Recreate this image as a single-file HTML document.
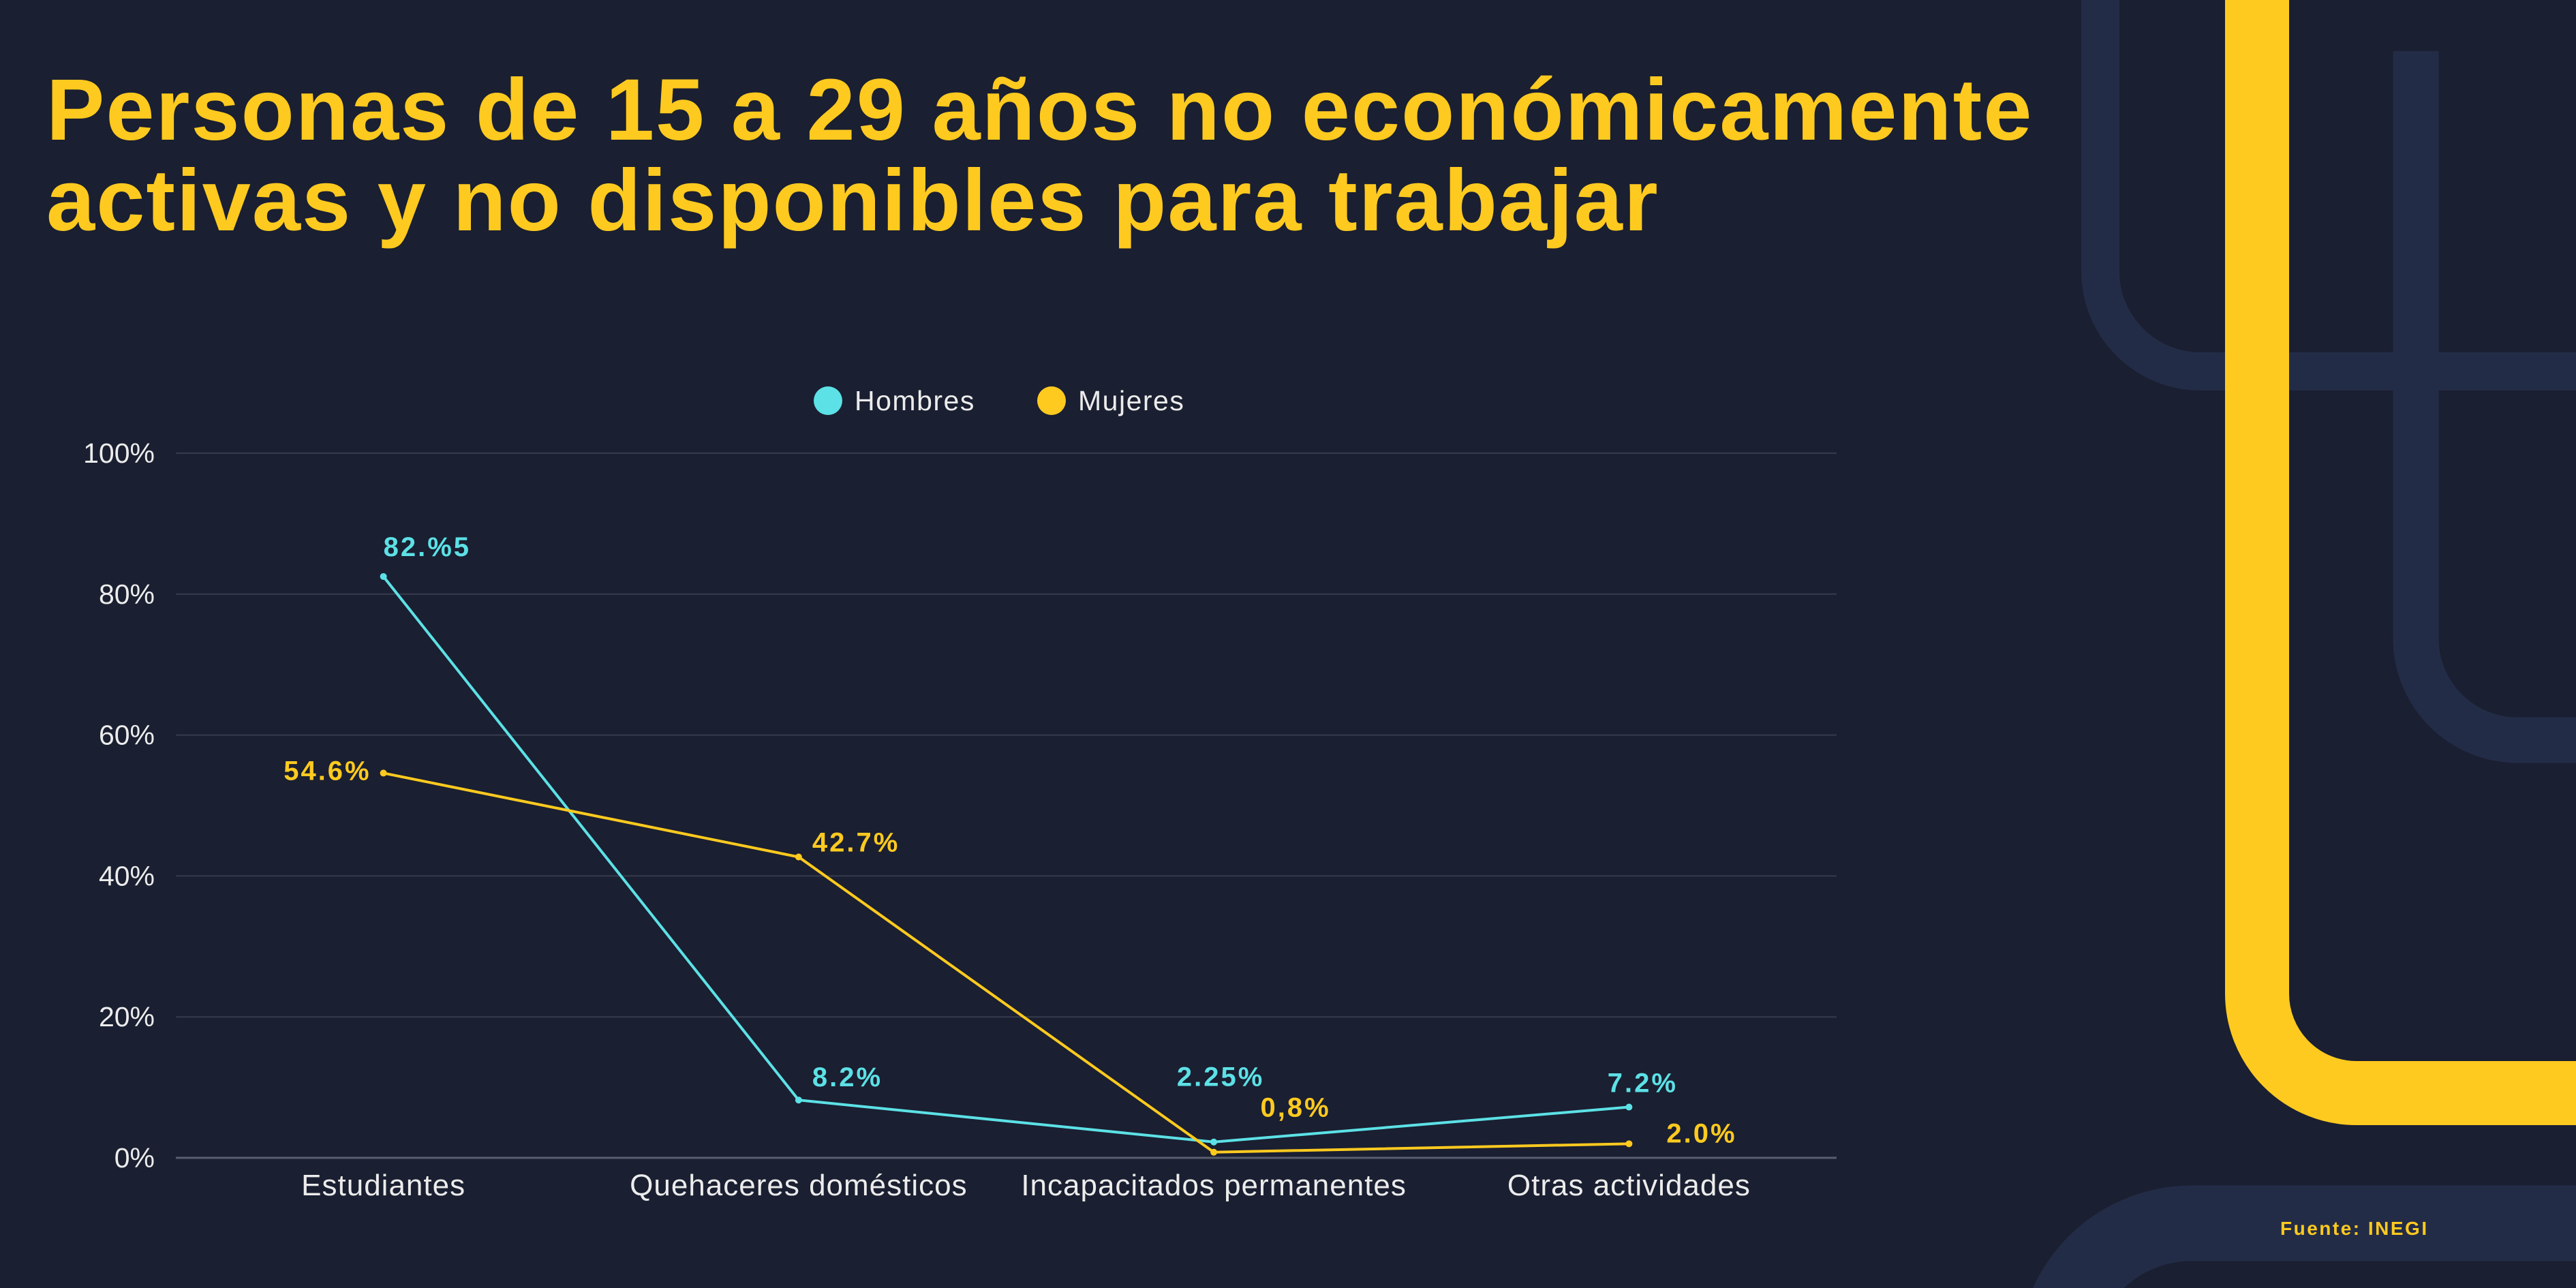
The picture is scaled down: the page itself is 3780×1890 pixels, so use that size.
<!DOCTYPE html>
<html><head><meta charset="utf-8"><style>
html,body{margin:0;padding:0;background:#1A1F31;overflow:hidden;width:3780px;height:1890px;}
svg{display:block;}
text{font-family:"Liberation Sans",sans-serif;}
</style></head><body>
<svg id="chart" width="3780" height="1890" viewBox="0 0 3780 1890" xmlns="http://www.w3.org/2000/svg">
<rect width="3780" height="1890" fill="#1A1F31"/>
<g fill="none" stroke-linecap="butt">
  <path d="M3082 -10 L3082 398 A147 147 0 0 0 3229 545 L3800 545" stroke="#232C47" stroke-width="56"/>
  <path d="M3545 75 L3545 937 A149 149 0 0 0 3694 1086 L3800 1086" stroke="#232C47" stroke-width="67"/>
  <path d="M3016 1995 A200 200 0 0 1 3216 1795 L3800 1795" stroke="#232C47" stroke-width="111"/>
  <path d="M3312 -10 L3312 1458 A146 146 0 0 0 3458 1604 L3800 1604" stroke="#FFCA1F" stroke-width="94"/>
</g>
<g fill="#FFCA1F" font-weight="bold" font-size="128" letter-spacing="2">
  <text x="68" y="205">Personas de 15 a 29 años no económicamente</text>
  <text x="68" y="338">activas y no disponibles para trabajar</text>
</g>
<text x="3346" y="1812" fill="#FFCA1F" font-weight="bold" font-size="28" letter-spacing="2.5">Fuente: INEGI</text>
<g>
  <g>
    <circle cx="1215" cy="588" r="21" fill="#5CE1E6"/>
    <text x="1254" y="602" fill="#ECECEC" font-size="41" letter-spacing="1.5">Hombres</text>
  </g>
  <g>
    <circle cx="1543" cy="588" r="21" fill="#FFCA1F"/>
    <text x="1582" y="602" fill="#ECECEC" font-size="41" letter-spacing="1.5">Mujeres</text>
  </g>
</g>
<g id="plot"></g>
<script>
const categories = ["Estudiantes", "Quehaceres domésticos", "Incapacitados permanentes", "Otras actividades"];
const hombres = [82.5, 8.2, 2.25, 7.2];
const mujeres = [54.6, 42.7, 0.8, 2.0];
const hombresLabels = ["82.%5", "8.2%", "2.25%", "7.2%"];
const mujeresLabels = ["54.6%", "42.7%", "0,8%", "2.0%"];
const yTicks = [0, 20, 40, 60, 80, 100];
const yTickLabels = ["0%", "20%", "40%", "60%", "80%", "100%"];

const NS = "http://www.w3.org/2000/svg";
const plot = document.getElementById("plot");
const L = 258, R = 2695, T = 665, B = 1699;
function xPos(i){ return L + (R - L) / categories.length * (i + 0.5); }
function yPos(v){ return B - (v / 100) * (B - T); }
function mk(tag, attrs, parent){
  const el = document.createElementNS(NS, tag);
  for (const k in attrs) el.setAttribute(k, attrs[k]);
  (parent || plot).appendChild(el);
  return el;
}
yTicks.forEach((t, i) => {
  const g = mk("line", {x1: L, x2: R, y1: yPos(t), y2: yPos(t), stroke: t === 0 ? "#5a5f70" : "#363b4e", "stroke-width": t === 0 ? 3 : 2});
  
  
  const lb = mk("text", {x: 227, y: yPos(t) + 14, "text-anchor": "end", fill: "#ECECEC", "font-size": 41});
  lb.textContent = yTickLabels[i];
  
  
});
categories.forEach((c, i) => {
  const lb = mk("text", {x: xPos(i), y: 1754, "text-anchor": "middle", fill: "#ECECEC", "font-size": 44, "letter-spacing": 1});
  lb.textContent = c;
  
  
});
function series(vals, color, name, labels, offs){
  const pts = vals.map((v, i) => xPos(i) + "," + yPos(v)).join(" ");
  const pl = mk("polyline", {points: pts, fill: "none", stroke: color, "stroke-width": 4});
  
  
  vals.forEach((v, i) => {
    const c = mk("circle", {cx: xPos(i), cy: yPos(v), r: 5, fill: color});
    
    
    const t = mk("text", {x: xPos(i) + offs[i][0], y: yPos(v) + offs[i][1], "text-anchor": offs[i][2], fill: color, "font-size": 40, "font-weight": "bold", "letter-spacing": 3});
    t.textContent = labels[i];
    
    
  });
}
series(hombres, "#5CE1E6", "hombres", hombresLabels, [[0,-30,"start"],[20,-20,"start"],[10,-82,"middle"],[20,-22,"middle"]]);
series(mujeres, "#FFCA1F", "mujeres", mujeresLabels, [[-18,10,"end"],[20,-8,"start"],[120,-52,"middle"],[55,-2,"start"]]);
</script>
</svg>
</body></html>
